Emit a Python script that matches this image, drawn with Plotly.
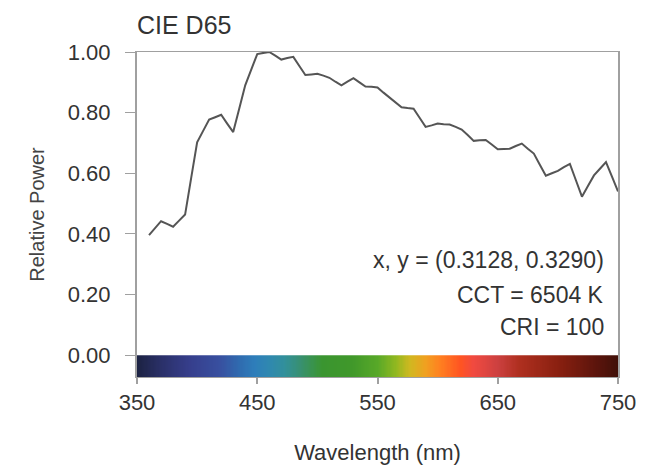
import plotly.graph_objects as go

# Spectral power distribution (relative)
wavelength = [360, 365, 370, 375, 380, 385, 390, 395, 400, 405, 410, 415, 420, 425, 430,
              435, 440, 445, 450, 455, 460, 465, 470, 475, 480, 485, 490, 495, 500, 505,
              510, 515, 520, 525, 530, 535, 540, 545, 550, 555, 560, 565, 570, 575, 580,
              585, 590, 595, 600, 605, 610, 615, 620, 625, 630, 635, 640, 645, 650, 655,
              660, 665, 670, 675, 680, 685, 690, 695, 700, 705, 710, 715, 720, 725, 730,
              735, 740, 745, 750]
rel_power = [0.396, 0.419, 0.442, 0.433, 0.424, 0.444, 0.464, 0.583, 0.702, 0.740, 0.777,
             0.785, 0.793, 0.764, 0.736, 0.813, 0.890, 0.942, 0.993, 0.997, 1.000, 0.988,
             0.975, 0.980, 0.984, 0.954, 0.924, 0.926, 0.928, 0.922, 0.915, 0.902, 0.890,
             0.902, 0.914, 0.900, 0.886, 0.885, 0.883, 0.866, 0.849, 0.833, 0.818, 0.815,
             0.813, 0.783, 0.753, 0.758, 0.764, 0.762, 0.761, 0.753, 0.744, 0.726, 0.707,
             0.709, 0.710, 0.695, 0.679, 0.680, 0.681, 0.690, 0.698, 0.681, 0.665, 0.628,
             0.592, 0.600, 0.608, 0.620, 0.631, 0.577, 0.523, 0.558, 0.593, 0.615, 0.637,
             0.589, 0.540]

x_ticks = [350, 450, 550, 650, 750]
y_ticks = [0.0, 0.2, 0.4, 0.6, 0.8, 1.0]
y_tick_labels = ["0.00", "0.20", "0.40", "0.60", "0.80", "1.00"]

# Visible-spectrum colour band
band_stops = [350, 370, 394, 419, 436, 448, 460, 473, 486, 504, 529, 550, 565, 577,
              590, 602, 619, 630, 650, 667, 700, 733, 750]
band_colors = ["#1c2242", "#2a3068", "#363e8c", "#3850a0", "#2f6cb0", "#2e7eba",
               "#2f88b0", "#32909a", "#389070", "#3a9530", "#40982a", "#58a828",
               "#90b820", "#d0b820", "#f0a020", "#ff8020", "#ff5422", "#f04a40",
               "#cc4040", "#b03020", "#8a2010", "#5a140c", "#401008"]
band_edges = list(range(350, 751))
band_centers = [e + 0.5 for e in band_edges[:-1]]
BAND_DEPTH = 0.0717

lo, hi = band_stops[0], band_stops[-1]
colorscale = [[(s - lo) / (hi - lo), c] for s, c in zip(band_stops, band_colors)]

info_lines = ["x, y = (0.3128, 0.3290)", "CCT = 6504 K", "CRI = 100"]
info_y = [0.313, 0.199, 0.094]

FONT = "Liberation Sans, Arial, sans-serif"
AXIS_GRAY = "#a0a0a0"

fig = go.Figure()
fig.add_trace(go.Heatmap(
    x=band_edges, y=[-BAND_DEPTH, 0], z=[band_centers],
    colorscale=colorscale, zmin=lo, zmax=hi, showscale=False, hoverinfo="skip",
))
fig.add_trace(go.Scatter(
    x=wavelength, y=rel_power, mode="lines",
    line=dict(color="#555555", width=2), showlegend=False,
))

for txt, yy in zip(info_lines, info_y):
    fig.add_annotation(text=txt, xref="paper", x=0.975, xanchor="right",
                       yref="y", y=yy, yanchor="middle", showarrow=False,
                       font=dict(family=FONT, size=23, color="#333333"))

fig.update_layout(
    width=650, height=473,
    margin=dict(l=137, r=32, t=52, b=92),
    paper_bgcolor="white", plot_bgcolor="white",
    showlegend=False,
    title=dict(text="CIE D65", xref="paper", x=0, xanchor="left",
               yref="container", y=1 - 25 / 473, yanchor="middle",
               font=dict(family=FONT, size=25, color="#333333")),
    font=dict(family=FONT, color="#333333"),
)
fig.update_xaxes(
    range=[350, 750], tickvals=x_ticks, ticktext=[str(v) for v in x_ticks],
    showgrid=False, zeroline=False, showline=True, linecolor=AXIS_GRAY, linewidth=1,
    mirror=True, ticks="outside", ticklen=6, tickcolor=AXIS_GRAY, tickwidth=2,
    tickfont=dict(family=FONT, size=22, color="#333333"),
    title=dict(text="Wavelength (nm)", font=dict(family=FONT, size=22, color="#333333"),
               standoff=30),
)
fig.update_yaxes(
    range=[-BAND_DEPTH, 1.0], tickvals=y_ticks, ticktext=y_tick_labels,
    showgrid=False, zeroline=False, showline=True, linecolor=AXIS_GRAY, linewidth=2,
    mirror=True, ticks="outside", ticklen=10, tickcolor=AXIS_GRAY, tickwidth=1,
    ticklabelstandoff=10,
    tickfont=dict(family=FONT, size=22, color="#333333"),
    title=dict(text="Relative Power", font=dict(family=FONT, size=20, color="#444444"),
               standoff=18),
)

fig.write_html("out.html")
